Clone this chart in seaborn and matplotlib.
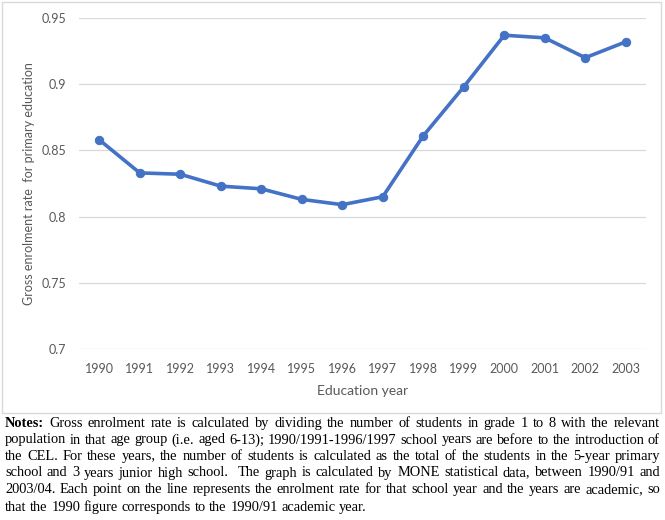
import numpy as np
import pandas as pd
import matplotlib
matplotlib.use("Agg")
import matplotlib.pyplot as plt
from matplotlib.patches import Rectangle
import seaborn as sns

# ── Data ──────────────────────────────────────────────────────────────────────
years = [1990, 1991, 1992, 1993, 1994, 1995, 1996,
         1997, 1998, 1999, 2000, 2001, 2002, 2003]
enrol_rate = [0.858, 0.833, 0.832, 0.823, 0.821, 0.813, 0.809,
              0.815, 0.861, 0.898, 0.937, 0.935, 0.920, 0.932]
y_ticks = [0.7, 0.75, 0.8, 0.85, 0.9, 0.95]
y_tick_labels = ["0.7", "0.75", "0.8", "0.85", "0.9", "0.95"]

notes_lines = [
    "Notes: Gross enrolment rate is calculated by dividing the number of students in grade 1 to 8 with the relevant",
    "population in that age group (i.e. aged 6-13); 1990/1991-1996/1997 school years are before to the introduction of",
    "the CEL. For these years, the number of students is calculated as the total of the students in the 5-year primary",
    "school and 3 years junior high school.  The graph is calculated by MONE statistical data, between 1990/91 and",
    "2003/04. Each point on the line represents the enrolment rate for that school year and the years are academic, so",
    "that the 1990 figure corresponds to the 1990/91 academic year.",
]

df = pd.DataFrame({"year": years, "rate": enrol_rate})

# ── Style ─────────────────────────────────────────────────────────────────────
LINE_COL = "#4472C4"
TXT_COL = "#595959"
GRID_COL = "#D9D9D9"
sns.set_style("white")
plt.rcParams["font.family"] = ["Lato", "DejaVu Sans"]

W, H = 665, 520
fig = plt.figure(figsize=(W / 100, H / 100), dpi=100)
ax = fig.add_axes([79 / W, 1 - 349 / H, (646 - 79) / W, (349 - 18) / H])

sns.lineplot(data=df, x="year", y="rate", ax=ax, color=LINE_COL,
             linewidth=2.6, marker="o", markersize=6,
             markeredgecolor=LINE_COL, markerfacecolor=LINE_COL)

ax.set_xlim(years[0] - 0.5, years[-1] + 0.5)
ax.set_ylim(0.7, 0.95)
ax.set_xticks(years)
ax.set_xticklabels([str(y) for y in years])
ax.set_yticks(y_ticks)
ax.set_yticklabels(y_tick_labels)
ax.tick_params(axis="both", length=0, labelsize=9, labelcolor=TXT_COL)
ax.tick_params(axis="x", pad=10)
ax.tick_params(axis="y", pad=9)
for y in y_ticks:
    ax.axhline(y, color=GRID_COL, linewidth=0.9, zorder=0)
for s in ax.spines.values():
    s.set_visible(False)
ax.set_xlabel("Education year", fontsize=10, color=TXT_COL, labelpad=7)
ax.set_ylabel("Gross enrolment rate  for primary education", fontsize=9.0,
              color=TXT_COL, labelpad=5)

# chart frame
fig.patches.append(Rectangle((1.5 / W, 1 - 413 / H), 659 / W, 411.5 / H,
                             transform=fig.transFigure, fill=False,
                             edgecolor=GRID_COL, linewidth=1))

# ── Justified notes ───────────────────────────────────────────────────────────
renderer = fig.canvas.get_renderer()
x_left, x_right = 5, 660
line_base = [427, 443.5, 460, 476.5, 493, 511]
note_kw = dict(fontfamily="Liberation Serif", fontsize=10.35, color="black",
               va="baseline", ha="left")

probe1 = fig.text(0, 0, "a a", **note_kw)
probe2 = fig.text(0, 0, "aa", **note_kw)
space_w = (probe1.get_window_extent(renderer).width
           - probe2.get_window_extent(renderer).width)
probe1.remove()
probe2.remove()

for i, (line, ypx) in enumerate(zip(notes_lines, line_base)):
    words = line.split(" ")
    texts = []
    for j, w in enumerate(words):
        weight = "bold" if (i == 0 and j == 0) else "normal"
        texts.append(fig.text(0, 1 - ypx / H, w, fontweight=weight, **note_kw))
    widths = [t.get_window_extent(renderer).width if t.get_text() else 0
              for t in texts]
    if i == len(notes_lines) - 1:
        gap = space_w
    else:
        gap = (x_right - x_left - sum(widths)) / (len(words) - 1)
    x = x_left
    for t, w in zip(texts, widths):
        t.set_x(x / W)
        x += w + gap

fig.savefig("out.png", dpi=100)
